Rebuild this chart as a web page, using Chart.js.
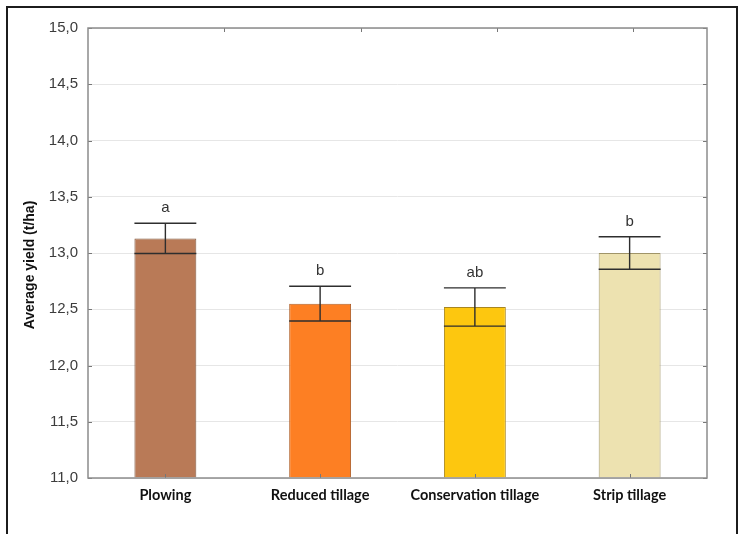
<!DOCTYPE html>
<html>
<head>
<meta charset="utf-8">
<script src="https://cdn.jsdelivr.net/npm/chart.js@4.4.1/dist/chart.umd.min.js"></script>
<style>
  html, body { margin: 0; padding: 0; background: #ffffff; overflow: hidden; }
  #wrap { position: relative; width: 740px; height: 534px; }
  #frame {
    position: absolute; left: 6px; top: 6px; width: 728px; bottom: -10px;
    border-top: 2px solid #1c1c1c; border-left: 2px solid #1c1c1c; border-right: 2px solid #1c1c1c;
    pointer-events: none;
  }
  canvas { position: absolute; left: 0; top: 0; }
</style>
</head>
<body>
<div id="wrap">
  <canvas id="c" width="740" height="534"></canvas>
  <div id="frame"></div>
</div>
<script>
// Tillage systems and their mean yields (t/ha) with error half-widths
const categories = ['Plowing', 'Reduced tillage', 'Conservation tillage', 'Strip tillage'];
const meanYield = [13.13, 12.55, 12.52, 13.00];
const yieldError = [0.135, 0.155, 0.17, 0.145];
const groupLetters = ['a', 'b', 'ab', 'b'];
const barColors = ['#b97a57', '#fd7f23', '#fdc70f', '#ede2b0'];
const barBorders = ['#80583f', '#b0602a', '#a88620', '#a09468'];
const yTickValues = [11.0, 11.5, 12.0, 12.5, 13.0, 13.5, 14.0, 14.5, 15.0];
const topAxisTicks = [1, 2, 3, 4];
const topAxisMax = 4.54;
const yTitle = 'Average yield (t/ha)';

const AXIS_GRAY = '#8c8c8c';

// Plot frame, short inward tick marks, error bars, group letters and y title
const decorations = {
  id: 'decorations',
  afterDatasetsDraw(chart) {
    const { ctx, chartArea: a, scales } = chart;
    const y = scales.y, x = scales.x;
    ctx.save();

    // tick marks pointing into the plot
    ctx.strokeStyle = '#777';
    ctx.lineWidth = 1;
    ctx.beginPath();
    yTickValues.forEach(v => {
      const py = Math.round(y.getPixelForValue(v)) + 0.5;
      ctx.moveTo(a.left, py); ctx.lineTo(a.left + 4, py);
      ctx.moveTo(a.right, py); ctx.lineTo(a.right - 4, py);
    });
    categories.forEach((c, i) => {
      const px = Math.round(x.getPixelForValue(i)) + 0.5;
      ctx.moveTo(px, a.bottom); ctx.lineTo(px, a.bottom - 4);
    });
    topAxisTicks.forEach(v => {
      const px = Math.round(a.left + (v / topAxisMax) * (a.right - a.left)) + 0.5;
      ctx.moveTo(px, a.top); ctx.lineTo(px, a.top + 4);
    });
    ctx.stroke();

    // plot frame
    ctx.strokeStyle = AXIS_GRAY;
    ctx.lineWidth = 1.5;
    ctx.strokeRect(a.left, a.top, a.right - a.left, a.bottom - a.top);

    // error bars with caps the width of the bar
    const meta = chart.getDatasetMeta(0);
    ctx.strokeStyle = '#2e2e2e';
    ctx.lineWidth = 1.4;
    ctx.fillStyle = '#333';
    ctx.font = '15px "Liberation Sans", Arial, sans-serif';
    ctx.textAlign = 'center';
    ctx.textBaseline = 'middle';
    meta.data.forEach((bar, i) => {
      const half = bar.width / 2;
      const yHi = y.getPixelForValue(meanYield[i] + yieldError[i]);
      const yLo = y.getPixelForValue(meanYield[i] - yieldError[i]);
      ctx.beginPath();
      ctx.moveTo(bar.x, yHi); ctx.lineTo(bar.x, yLo);
      ctx.moveTo(bar.x - half, yHi); ctx.lineTo(bar.x + half, yHi);
      ctx.moveTo(bar.x - half, yLo); ctx.lineTo(bar.x + half, yLo);
      ctx.stroke();
      ctx.fillText(groupLetters[i], bar.x, yHi - 15);
    });

    // rotated y-axis title, sitting a little below the plot's middle
    ctx.translate(30, (a.top + a.bottom) / 2 + 12);
    ctx.rotate(-Math.PI / 2);
    ctx.fillStyle = '#111';
    ctx.font = 'bold 14px "Liberation Sans", Arial, sans-serif';
    ctx.fillText(yTitle, 0, 0);
    ctx.restore();
  }
};

new Chart(document.getElementById('c'), {
  type: 'bar',
  data: {
    labels: categories,
    datasets: [{
      data: meanYield,
      backgroundColor: barColors,
      borderColor: barBorders,
      borderWidth: 1,
      barPercentage: 0.4,
      categoryPercentage: 1.0,
      base: 11
    }]
  },
  options: {
    responsive: false,
    devicePixelRatio: 1,
    animation: false,
    layout: { padding: { top: 28, right: 33, left: 0, bottom: 0 } },
    plugins: { legend: { display: false }, tooltip: { enabled: false } },
    scales: {
      x: {
        type: 'category',
        offset: true,
        grid: { display: false, drawTicks: false },
        border: { display: false },
        ticks: {
          color: '#111',
          padding: 9,
          font: { family: 'Lato, "Open Sans", sans-serif', size: 14.5, weight: 'bold' }
        },
        afterFit(s) { s.height = 56; }
      },
      y: {
        min: 11,
        max: 15,
        ticks: {
          stepSize: 0.5,
          padding: 10,
          color: '#3c3c3c',
          font: { family: '"Liberation Sans", Arial, sans-serif', size: 15 },
          callback: v => v.toFixed(1).replace('.', ',')
        },
        grid: { color: '#e6e6e6', lineWidth: 1, drawTicks: false },
        border: { display: false },
        afterFit(s) { s.width = 88; }
      }
    }
  },
  plugins: [decorations]
});
</script>
</body>
</html>
